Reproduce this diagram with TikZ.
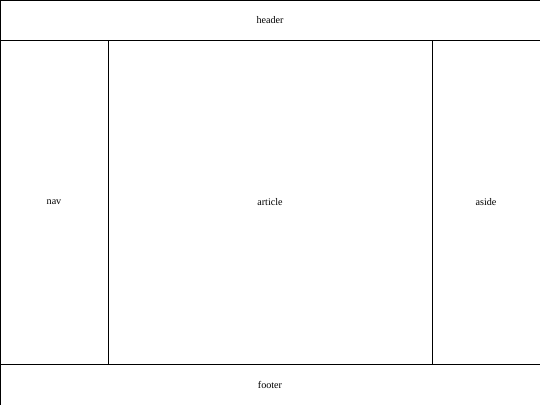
\documentclass[tikz,border=0pt]{standalone}
\usepackage{fontspec}
\setmainfont{Liberation Serif}
\usepackage{tikz}

\begin{document}
\begin{tikzpicture}[x=0.025cm, y=-0.025cm,
    region/.style={draw=black, line width=0.6pt, fill=white, inner sep=0pt, outer sep=0pt, font=\fontsize{7.2}{8.5}\selectfont}]
\useasboundingbox (0,0) rectangle (540,405);
%\draw (0,0) rectangle (540,405);
\draw [region] (0,0) rectangle (540,40);
\draw [region] (0,40) rectangle (108,364);
\draw [region] (108,40) rectangle (432,364);
\draw [region] (432,40) rectangle (540,364);
\draw [region] (0,364) rectangle (540,405);
\node [font=\fontsize{7.2}{8.5}\selectfont] (header) at (270,20) {header};
\node [font=\fontsize{7.2}{8.5}\selectfont] (nav) at (54,202) {nav};
\node [font=\fontsize{7.2}{8.5}\selectfont] (article) at (270,202) {article};
\node [font=\fontsize{7.2}{8.5}\selectfont] (aside) at (486,202) {aside};
\node [font=\fontsize{7.2}{8.5}\selectfont] (footer) at (270,384.5) {footer};
\end{tikzpicture}
\end{document}
